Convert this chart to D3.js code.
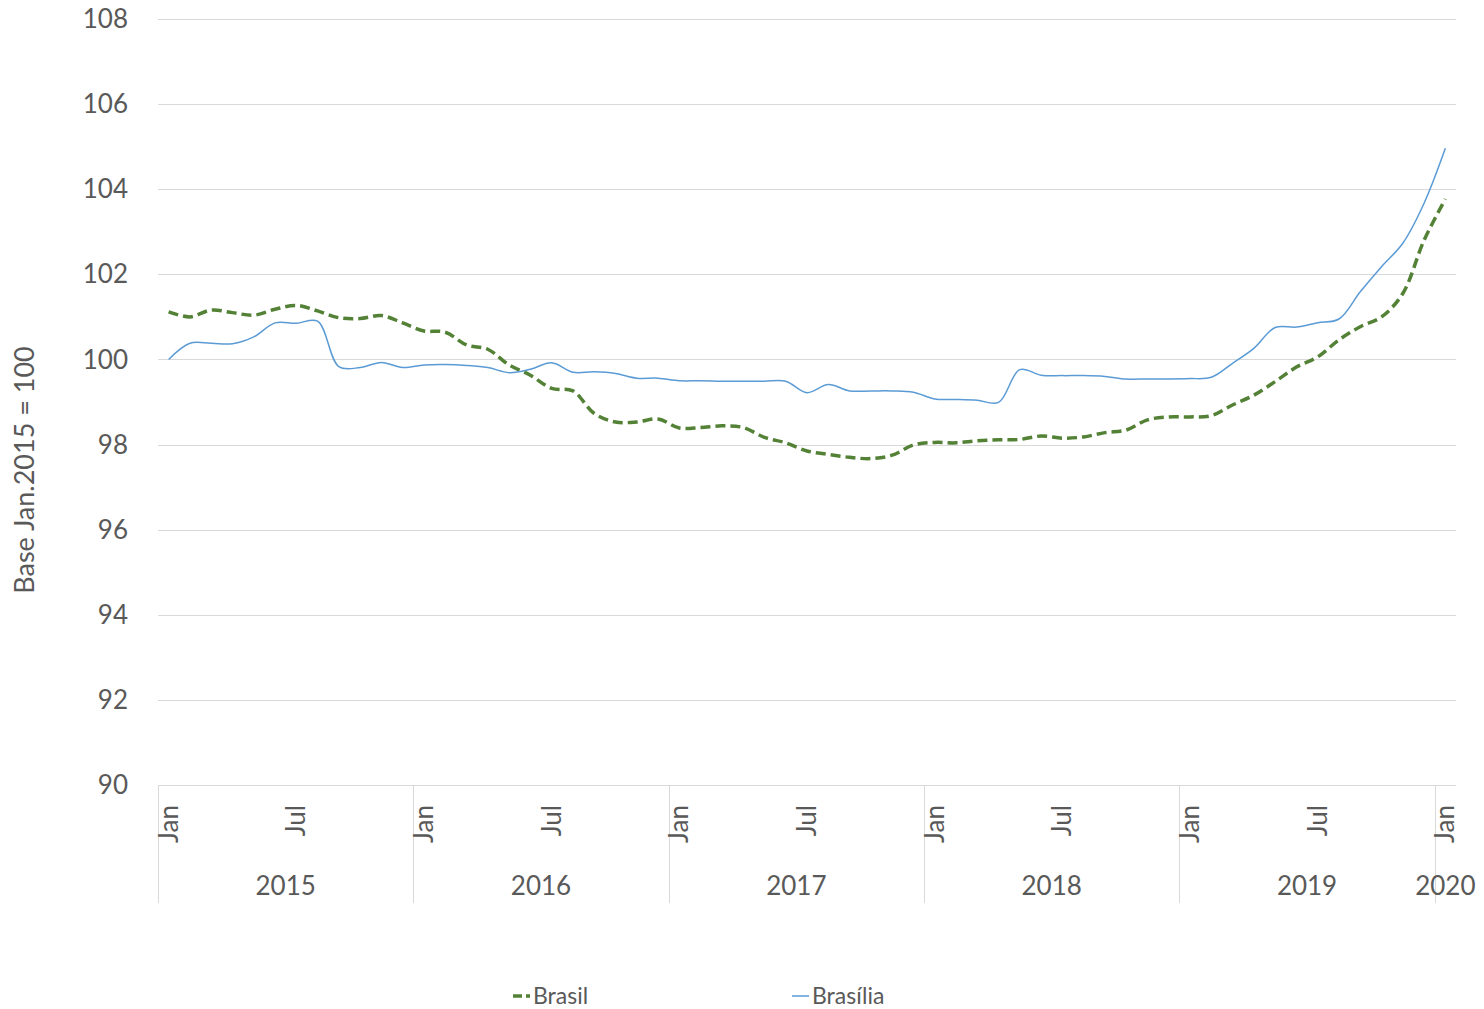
<!DOCTYPE html>
<html>
<head>
<meta charset="utf-8">
<script src="https://cdn.jsdelivr.net/npm/d3@7"></script>
<style>
  body { margin: 0; background: #fff; }
  text { font-family: Lato, "Open Sans", sans-serif; fill: #595959; }
</style>
</head>
<body>
<div id="chart"></div>
<script>
//---------------------Data

const years = [2015, 2016, 2017, 2018, 2019, 2020]
const monthNames = ["Jan","Feb","Mar","Apr","May","Jun","Jul","Aug","Sep","Oct","Nov","Dec"]
const shownMonths = ["Jan", "Jul"]
const yTicks = [90, 92, 94, 96, 98, 100, 102, 104, 106, 108]

const brasil = [
  101.12, 101.00, 101.16, 101.10, 101.04, 101.18, 101.27, 101.14, 100.98, 100.96, 101.03, 100.86,
  100.67, 100.64, 100.34, 100.24, 99.87, 99.63, 99.32, 99.26, 98.73, 98.53, 98.53, 98.60,
  98.39, 98.40, 98.44, 98.40, 98.17, 98.04, 97.85, 97.77, 97.70, 97.67, 97.75, 97.99,
  98.05, 98.04, 98.09, 98.11, 98.12, 98.20, 98.15, 98.18, 98.28, 98.34, 98.58, 98.65,
  98.65, 98.68, 98.93, 99.16, 99.48, 99.82, 100.06, 100.46, 100.77, 101.00, 101.55, 102.80,
  103.77
]

const brasilia = [
  100.00, 100.38, 100.38, 100.37, 100.53, 100.86, 100.85, 100.90, 99.83, 99.81, 99.93, 99.81,
  99.87, 99.88, 99.86, 99.81, 99.69, 99.77, 99.92, 99.70, 99.71, 99.67, 99.56, 99.56,
  99.50, 99.50, 99.49, 99.49, 99.49, 99.49, 99.22, 99.41, 99.26, 99.26, 99.26, 99.23,
  99.07, 99.06, 99.04, 98.99, 99.76, 99.63, 99.62, 99.62, 99.60, 99.54, 99.54, 99.54,
  99.55, 99.58, 99.91, 100.26, 100.75, 100.76, 100.86, 100.95, 101.59, 102.18, 102.73, 103.67,
  104.96
]

// categories: one per month, Jan 2015 .. Jan 2020
const categories = []
years.forEach(y => monthNames.forEach(m => categories.push({ year: y, month: m })))
categories.length = brasil.length

const series = [
  { name: "Brasil", values: brasil, color: "#538135", width: 3.5, dash: "10,5" },
  { name: "Brasília", values: brasilia, color: "#5B9BD5", width: 1.5, dash: null }
]

//---------------------Dimensions

let dimensions = {
  width: 1484,
  height: 1009,
  left: 158,
  right: 1456,
  top: 19,
  bottom: 785
}

const svg = d3.select("#chart")
  .append("svg")
  .attr("width", dimensions.width)
  .attr("height", dimensions.height)

//---------------------Scales

const xScale = d3.scaleBand()
  .domain(d3.range(categories.length))
  .range([dimensions.left, dimensions.right])
  .padding(0)

const xCenter = i => xScale(i) + xScale.bandwidth() / 2

const yScale = d3.scaleLinear()
  .domain([90, 108])
  .range([dimensions.bottom, dimensions.top])

//---------------------Gridlines + y axis labels

svg.append("g")
  .selectAll("line")
  .data(yTicks)
  .join("line")
  .attr("x1", dimensions.left)
  .attr("x2", dimensions.right)
  .attr("y1", d => Math.round(yScale(d)) + 0.5)
  .attr("y2", d => Math.round(yScale(d)) + 0.5)
  .attr("stroke", "#d9d9d9")
  .attr("stroke-width", 1)

svg.append("g")
  .selectAll("text")
  .data(yTicks)
  .join("text")
  .attr("x", 128)
  .attr("y", d => yScale(d))
  .attr("dy", "0.35em")
  .attr("text-anchor", "end")
  .style("font-size", "26px")
  .text(d => d)

svg.append("text")
  .attr("transform", `translate(34,${(dimensions.top + dimensions.bottom) / 2 + 68}) rotate(-90)`)
  .attr("text-anchor", "middle")
  .style("font-size", "27px")
  .text("Base Jan.2015 = 100")

//---------------------X axis (two level)

// year separators
const yearStarts = years.map(y => categories.findIndex(c => c.year === y))
const sepX = yearStarts.map(i => xScale(i)).concat([dimensions.right])

svg.append("g")
  .selectAll("line")
  .data(sepX.slice(0, -1))
  .join("line")
  .attr("x1", d => Math.round(d) + 0.5)
  .attr("x2", d => Math.round(d) + 0.5)
  .attr("y1", dimensions.bottom)
  .attr("y2", 903)
  .attr("stroke", "#d9d9d9")

svg.append("g")
  .selectAll("text")
  .data(categories.map((c, i) => ({ ...c, i })).filter(c => shownMonths.includes(c.month)))
  .join("text")
  .attr("transform", d => `translate(${xCenter(d.i)},805) rotate(-90)`)
  .attr("dy", "0.35em")
  .attr("text-anchor", "end")
  .style("font-size", "26px")
  .text(d => d.month)

svg.append("g")
  .selectAll("text")
  .data(years)
  .join("text")
  .attr("x", (d, k) => (sepX[k] + sepX[k + 1]) / 2)
  .attr("y", 895)
  .attr("text-anchor", "middle")
  .style("font-size", "26px")
  .text(d => d)

//---------------------Lines

const lineGenerator = d3.line()
  .x((d, i) => xCenter(i))
  .y(d => yScale(d))
  .curve(d3.curveCatmullRom.alpha(0.5))

svg.append("g")
  .selectAll("path")
  .data(series)
  .join("path")
  .attr("d", d => lineGenerator(d.values))
  .attr("fill", "none")
  .attr("stroke", d => d.color)
  .attr("stroke-width", d => d.width)
  .attr("stroke-dasharray", d => d.dash)

//---------------------Legend

const legendX = [513, 792]

const legend = svg.append("g")
  .selectAll("g")
  .data(series)
  .join("g")
  .attr("transform", (d, i) => `translate(${legendX[i]},996)`)

legend.append("line")
  .attr("x1", 0)
  .attr("x2", 17)
  .attr("y1", 0)
  .attr("y2", 0)
  .attr("stroke", d => d.color)
  .attr("stroke-width", d => d.width)
  .attr("stroke-dasharray", d => d.dash ? "9,4" : null)

legend.append("text")
  .attr("x", 20)
  .attr("dy", "0.35em")
  .style("font-size", "23px")
  .text(d => d.name)
</script>
</body>
</html>
